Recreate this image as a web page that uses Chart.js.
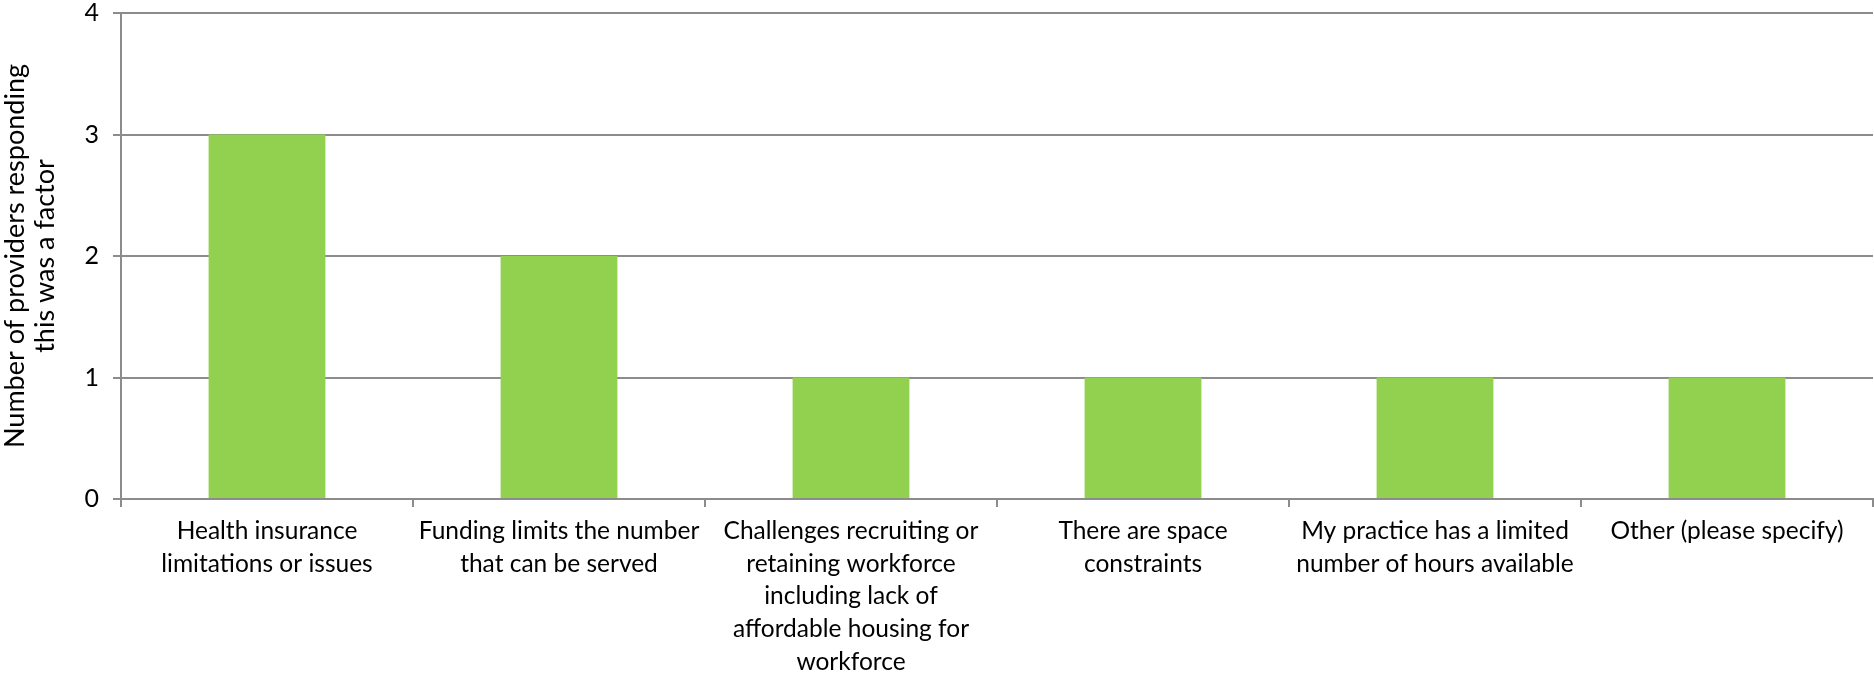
<!DOCTYPE html>
<html>
<head>
<meta charset="utf-8">
<script src="https://cdn.jsdelivr.net/npm/chart.js@4.4.0/dist/chart.umd.min.js"></script>
<style>
  html, body { margin: 0; padding: 0; background: #fff; }
  #wrap { width: 1874px; height: 676px; }
</style>
</head>
<body>
<div id="wrap"><canvas id="factorsChart" width="1874" height="676"></canvas></div>
<script>
// categories (wrapped the way the reference shows them)
const categories = [
    ['Health insurance', 'limitations or issues'],
    ['Funding limits the number', 'that can be served'],
    ['Challenges recruiting or', 'retaining workforce', 'including lack of', 'affordable housing for', 'workforce'],
    ['There are space', 'constraints'],
    ['My practice has a limited', 'number of hours available'],
    ['Other (please specify)']
];
const providerCounts = [3, 2, 1, 1, 1, 1];
const yTicks = [0, 1, 2, 3, 4];
const yTitle = ['Number of providers responding', 'this was a factor'];

const fontFamily = 'Lato, "Open Sans", sans-serif';
const gridGray = '#8c8c8c';

const ctx = document.getElementById('factorsChart').getContext('2d');
new Chart(ctx, {
    type: 'bar',
    data: {
        labels: categories,
        datasets: [{
            data: providerCounts,
            backgroundColor: '#92d050',
            borderWidth: 0,
            categoryPercentage: 1,
            barPercentage: 0.4
        }]
    },
    options: {
        responsive: false,
        animation: false,
        layout: { padding: { top: 13, right: 1, left: 0, bottom: 0 } },
        plugins: { legend: { display: false }, tooltip: { enabled: false } },
        scales: {
            x: {
                offset: true,
                grid: { offset: true, drawOnChartArea: false, color: gridGray, lineWidth: 2, tickLength: 8 },
                border: { color: gridGray, width: 2 },
                ticks: {
                    color: '#000',
                    maxRotation: 0,
                    autoSkip: false,
                    padding: 8,
                    font: { family: fontFamily, size: 24.5, lineHeight: 1.33 }
                },
                afterFit: (scale) => { scale.height = 177; }
            },
            y: {
                min: 0,
                max: yTicks[yTicks.length - 1],
                afterBuildTicks: (scale) => { scale.ticks = yTicks.map(v => ({ value: v })); },
                grid: { color: gridGray, lineWidth: 2, tickLength: 8 },
                border: { color: gridGray, width: 2 },
                ticks: {
                    color: '#000',
                    padding: 14,
                    font: { family: fontFamily, size: 25 }
                },
                title: {
                    display: true,
                    text: yTitle,
                    color: '#000',
                    padding: { top: 0, bottom: 0 },
                    font: { family: fontFamily, size: 27, lineHeight: 1.12 }
                },
                afterFit: (scale) => {
                    scale.width = 121;
                    // top label may overhang the plot, as in the reference
                    scale.paddingTop = 0;
                }
            }
        }
    }
});
</script>
</body>
</html>
